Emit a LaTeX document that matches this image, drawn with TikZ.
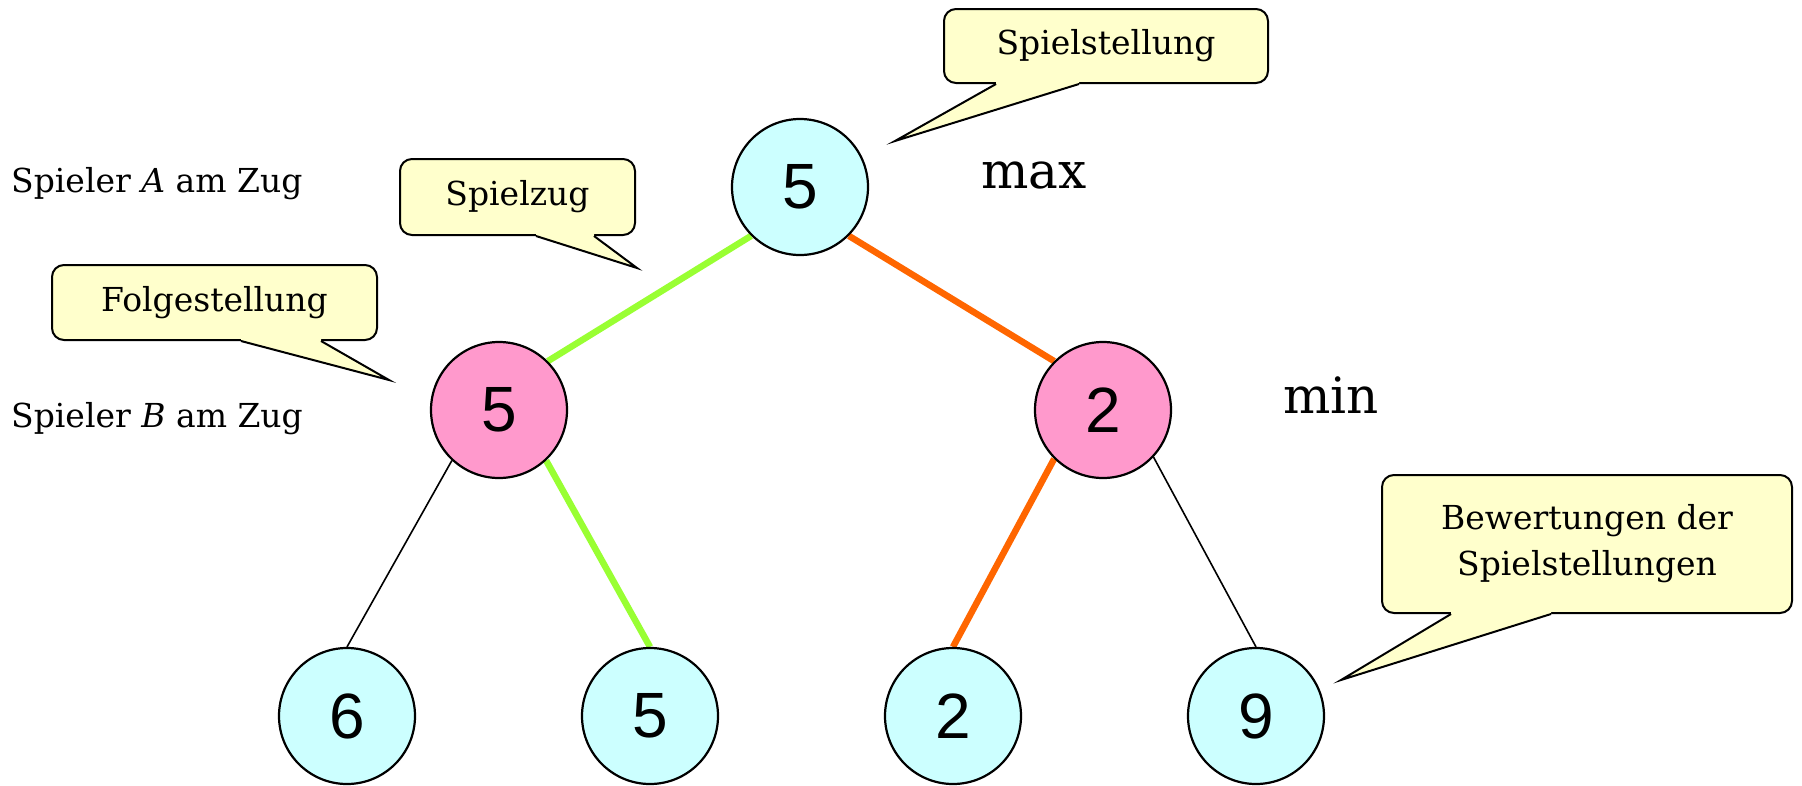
\documentclass[tikz,border=0pt]{standalone}
\usepackage{fontspec}
\setmainfont{DejaVu Serif}
\newfontfamily\numfont{Liberation Sans}
\usetikzlibrary{calc,backgrounds}

\definecolor{poscyan}{HTML}{CCFFFF}
\definecolor{pospink}{HTML}{FF99CC}
\definecolor{notefill}{HTML}{FFFFCC}
\definecolor{movegreen}{HTML}{99FF33}
\definecolor{moveorange}{HTML}{FF6600}

\tikzset{
  gamepos/.style={circle, draw=black, line width=2.2pt, minimum size=136pt, inner sep=0pt,
              font=\numfont\fontsize{64}{64}\selectfont},
  maxpos/.style={gamepos, fill=poscyan},
  minpos/.style={gamepos, fill=pospink},
  note/.style={draw=black, fill=notefill, line width=2pt, rounded corners=12pt,
               inner sep=0pt, align=center, font=\fontsize{33}{46}\selectfont},
  notetip/.style={draw=black, line width=2pt, line join=miter},
  greenmove/.style={draw=movegreen, line width=6.5pt},
  orangemove/.style={draw=moveorange, line width=6.5pt},
  plainmove/.style={draw=black, line width=1.6pt},
  sidelabel/.style={inner sep=0pt, font=\fontsize{33}{33}\selectfont},
  rolelabel/.style={inner sep=0pt, font=\fontsize{50}{50}\selectfont}
}

% pointer of a speech bubble: base from (#1) to (#2), tip at (#3)
\newcommand{\bubbletip}[3]{%
  \fill[notefill] ($(#1)+(0,-4)$) -- (#1) -- (#3) -- (#2) -- ($(#2)+(0,-4)$) -- cycle;
  \draw[notetip] (#1) -- (#3) -- (#2);
}

\begin{document}
\begin{tikzpicture}[x=1pt,y=-1pt]
  \useasboundingbox (0,0) rectangle (1802,785);

  % game tree
  \node[maxpos] (root) at (800,187) {5};
  \node[minpos] (ml) at (499,410) {5};
  \node[minpos] (mr) at (1103,410) {2};
  \node[maxpos] (l1) at (347,716) {6};
  \node[maxpos] (l2) at (650,716) {5};
  \node[maxpos] (l3) at (953,716) {2};
  \node[maxpos] (l4) at (1256,716) {9};

  \begin{scope}[on background layer]
    \draw[greenmove] (root.225) -- (ml.45);
    \draw[orangemove] (root.315) -- (mr.135);
    \draw[plainmove] (ml.227) -- (l1.north);
    \draw[greenmove] (ml.313) -- (l2.north);
    \draw[orangemove] (mr.225) -- (l3.north);
    \draw[plainmove] (mr.317) -- (l4.north);
  \end{scope}

  % side labels
  \node[sidelabel, anchor=base west] (pa) at (11,192) {Spieler \textit{A} am Zug};
  \node[sidelabel, anchor=base west] (pb) at (11,427) {Spieler \textit{B} am Zug};
  \node[rolelabel, anchor=base west] (maxl) at (981,188) {max};
  \node[rolelabel, anchor=base west] (minl) at (1283,413) {min};

  % speech bubbles
  \node[note, minimum width=324pt, minimum height=74pt] (c1) at (1106,46) {Spielstellung};
  \coordinate (t1) at (895,141);
  \bubbletip{$(c1.south west)+(53,0)$}{$(c1.south west)+(136,0)$}{t1}

  \node[note, minimum width=235pt, minimum height=76pt] (c2) at (517.5,197) {Spielzug};
  \coordinate (t2) at (637,268);
  \bubbletip{$(c2.south west)+(137,0)$}{$(c2.south west)+(195,0)$}{t2}

  \node[note, minimum width=325pt, minimum height=75pt] (c3) at (214.5,302.5) {Folgestellung};
  \coordinate (t3) at (389,380);
  \bubbletip{$(c3.south west)+(190,0)$}{$(c3.south west)+(270,0)$}{t3}

  \node[note, minimum width=410pt, minimum height=138pt] (c4) at (1587,544) {Bewertungen der\\Spielstellungen};
  \coordinate (t4) at (1341,680);
  \bubbletip{$(c4.south west)+(70,0)$}{$(c4.south west)+(170,0)$}{t4}
\end{tikzpicture}
\end{document}
